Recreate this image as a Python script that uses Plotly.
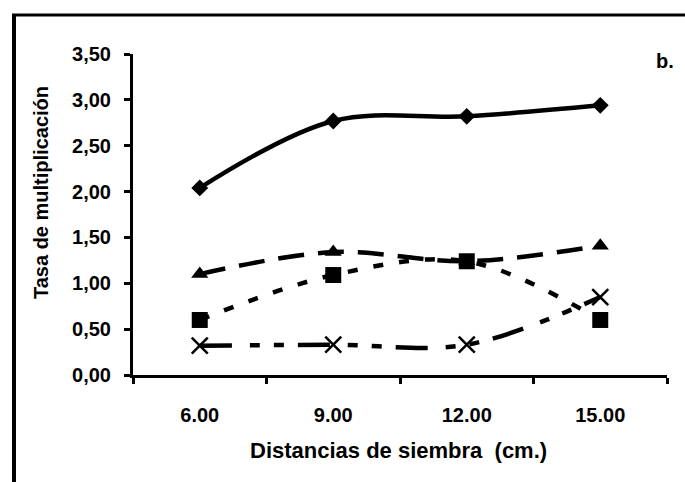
import plotly.graph_objects as go

# ---- data ----
distancias = [6, 9, 12, 15]
etiquetas_x = ["6.00", "9.00", "12.00", "15.00"]
serie_rombo = [2.04, 2.77, 2.82, 2.94]
serie_triangulo = [1.10, 1.34, 1.24, 1.41]
serie_cuadrado = [0.60, 1.09, 1.24, 0.60]
serie_equis = [0.32, 0.33, 0.33, 0.85]
valores_y = [0, 0.5, 1, 1.5, 2, 2.5, 3, 3.5]
etiquetas_y = ["0,00", "0,50", "1,00", "1,50", "2,00", "2,50", "3,00", "3,50"]
limites_x = [4.5, 7.5, 10.5, 13.5, 16.5]
titulo_x = "Distancias de siembra  (cm.)"
titulo_y = "Tasa de multiplicación"
panel = "b."

FONT = "Liberation Sans, Arial, sans-serif"
W, H = 685, 482
L, R, T, B = 133, 18, 54, 107

fig = go.Figure()

def add(y, dash, symbol, size, mline=0):
    fig.add_trace(go.Scatter(
        x=distancias, y=y, mode="lines+markers",
        line=dict(color="black", width=4.5, dash=dash, shape="spline", smoothing=1.0),
        marker=dict(symbol=symbol, size=size, color="black",
                    line=dict(color="black", width=mline)),
        showlegend=False, cliponaxis=False))

add(serie_rombo, "solid", "diamond", 13)
add(serie_triangulo, "26px,14px", "triangle-up", 15)
add(serie_cuadrado, "10px,16px", "square", 16)
add(serie_equis, "32px,18px,10px,14px,10px,14px", "x-thin", 16, 2.5)

fig.update_layout(
    width=W, height=H,
    margin=dict(l=L, r=R, t=T, b=B, pad=0),
    paper_bgcolor="white", plot_bgcolor="white",
    font=dict(family=FONT, color="black", size=20, weight="bold"),
    xaxis=dict(range=[limites_x[0], limites_x[-1]], tickmode="array",
               tickvals=distancias, ticktext=etiquetas_x, ticks="",
               showgrid=False, zeroline=False, showline=True,
               linecolor="black", linewidth=3, ticklabelstandoff=20,
               tickfont=dict(family=FONT, size=20, weight="bold"),
               minor=dict(tickmode="array", tickvals=limites_x, ticks="outside",
                          ticklen=6, tickwidth=2.5, tickcolor="black", showgrid=False)),
    yaxis=dict(range=[0, 3.5], tickmode="array", tickvals=valores_y,
               ticktext=etiquetas_y, ticks="outside", ticklen=6, tickwidth=2.5,
               tickcolor="black", showgrid=False, zeroline=False, showline=True,
               linecolor="black", linewidth=3, ticklabelstandoff=9,
               tickfont=dict(family=FONT, size=20, weight="bold")),
)

pw = W - L - R
ph = H - T - B
def px(x):
    return (x - L) / pw
def py(y):
    return (H - B - y) / ph

fig.add_annotation(text=titulo_x, x=px(398), y=py(450), xref="paper", yref="paper",
                   showarrow=False, xanchor="center", yanchor="middle",
                   font=dict(family=FONT, size=22, weight="bold"))
fig.add_annotation(text=titulo_y, x=px(41), y=py(193), xref="paper", yref="paper",
                   showarrow=False, xanchor="center", yanchor="middle", textangle=-90,
                   font=dict(family=FONT, size=20, weight="bold"))
fig.add_annotation(text=panel, x=px(665), y=py(61), xref="paper", yref="paper",
                   showarrow=False, xanchor="center", yanchor="middle",
                   font=dict(family=FONT, size=20, weight="bold"))

# outer frame (left and top edges)
fig.add_shape(type="line", xref="paper", yref="paper", x0=px(14), x1=px(14),
              y0=py(14), y1=py(H + 5), line=dict(color="black", width=4))
fig.add_shape(type="line", xref="paper", yref="paper", x0=px(12), x1=px(W + 5),
              y0=py(15), y1=py(15), line=dict(color="black", width=3))

fig.write_html("out.html", config={"displayModeBar": False},
               post_script="document.body.style.margin='0';document.body.style.overflow='hidden';")
